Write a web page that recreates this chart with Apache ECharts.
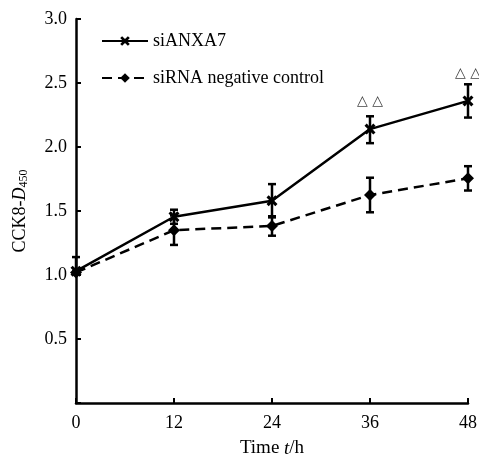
<!DOCTYPE html>
<html>
<head>
<meta charset="utf-8">
<script src="https://cdn.jsdelivr.net/npm/echarts@6/dist/echarts.min.js"></script>
<style>
  html, body { margin: 0; padding: 0; background: #fff; }
  #main { width: 479px; height: 455px; }
</style>
</head>
<body>
<div id="main"></div>
<script>
// time points (h)
const hours = [0, 12, 24, 36, 48];
// CCK8 D450 means
const anxa7 = [1.03, 1.455, 1.58, 2.14, 2.36];
const control = [1.02, 1.35, 1.383, 1.625, 1.755];
// error bars (upper / lower half)
const anxa7ErrUp = [0.11, 0.055, 0.13, 0.10, 0.13];
const anxa7ErrDown = [0, 0.055, 0.13, 0.11, 0.13];
const ctrlErrUp = [0, 0.115, 0.076, 0.135, 0.095];
const ctrlErrDown = [0, 0.115, 0.076, 0.135, 0.095];
// significance marks
const markHours = [36, 48];
const markText = '\u25B3 \u25B3';

const serif = '"Liberation Serif", "DejaVu Serif", serif';
const xSymbol = 'path://M0,2 L2,0 L5,3 L8,0 L10,2 L7,5 L10,8 L8,10 L5,7 L2,10 L0,8 L3,5 Z';

function errData(vals, up, down) {
  return hours.map((h, i) => [h, vals[i] - down[i], vals[i] + up[i]]);
}

function renderErr(params, api) {
  const lo = api.coord([api.value(0), api.value(1)]);
  const hi = api.coord([api.value(0), api.value(2)]);
  const w = 4;
  const style = { stroke: '#000', lineWidth: 2.5, fill: null };
  const children = [];
  if (Math.abs(lo[1] - hi[1]) < 0.5) return { type: 'group', children };
  children.push({ type: 'line', shape: { x1: hi[0], y1: hi[1], x2: lo[0], y2: lo[1] }, style });
  children.push({ type: 'line', shape: { x1: hi[0] - w, y1: hi[1], x2: hi[0] + w, y2: hi[1] }, style });
  children.push({ type: 'line', shape: { x1: lo[0] - w, y1: lo[1], x2: lo[0] + w, y2: lo[1] }, style });
  return { type: 'group', children };
}

const chart = echarts.init(document.getElementById('main'));

const anxa7Points = hours.map((h, i) => {
  const item = { value: [h, anxa7[i]] };
  if (markHours.includes(h)) {
    item.label = {
      show: true, position: 'top', distance: 15,
      formatter: markText, color: '#444', fontSize: 14, fontFamily: '"DejaVu Sans", sans-serif'
    };
  }
  return item;
});

chart.setOption({
  animation: false,
  grid: { left: 76, right: 11, top: 19, bottom: 52, outerBoundsMode: 'none', containLabel: false },
  legend: {
    data: ['siANXA7', 'siRNA negative control'],
    orient: 'vertical',
    left: 96, top: 27,
    itemWidth: 46, itemHeight: 12, itemGap: 19,
    textStyle: { fontFamily: serif, fontSize: 18, color: '#000' }
  },
  xAxis: {
    type: 'value', min: 0, max: 48, interval: 12,
    name: '{n|Time }{i|t}{n|/h}',
    nameLocation: 'middle', nameGap: 36,
    nameTextStyle: {
      rich: {
        n: { fontFamily: serif, fontSize: 19, color: '#000' },
        i: { fontFamily: serif, fontSize: 19, color: '#000', fontStyle: 'italic' }
      }
    },
    axisLine: { lineStyle: { color: '#000', width: 2.5 } },
    axisTick: { inside: true, length: 5, lineStyle: { color: '#000', width: 2 } },
    axisLabel: { color: '#000', fontFamily: serif, fontSize: 18, margin: 11 },
    splitLine: { show: false }
  },
  yAxis: {
    type: 'value', min: 0, max: 3, interval: 0.5,
    name: '{n|CCK8-}{i|D}{s|450}',
    nameLocation: 'middle', nameGap: 46,
    nameTextStyle: {
      rich: {
        n: { fontFamily: serif, fontSize: 18, color: '#000' },
        i: { fontFamily: serif, fontSize: 18, color: '#000', fontStyle: 'italic' },
        s: { fontFamily: serif, fontSize: 12, color: '#000', padding: [8, 0, 0, 0] }
      }
    },
    axisLine: { show: true, lineStyle: { color: '#000', width: 2.5 } },
    axisTick: { show: true, inside: true, length: 5, lineStyle: { color: '#000', width: 2 } },
    axisLabel: {
      color: '#000', fontFamily: serif, fontSize: 18, margin: 9,
      formatter: v => (v === 0 ? '' : v.toFixed(1))
    },
    splitLine: { show: false }
  },
  series: [
    {
      name: 'siANXA7', type: 'line', data: anxa7Points,
      symbol: xSymbol, symbolSize: 11,
      itemStyle: { color: '#000' },
      lineStyle: { color: '#000', width: 2.5, type: 'solid' },
      z: 3
    },
    {
      name: 'siRNA negative control', type: 'line',
      data: hours.map((h, i) => [h, control[i]]),
      symbol: 'diamond', symbolSize: 12,
      itemStyle: { color: '#000' },
      lineStyle: { color: '#000', width: 2.5, type: [10, 6] },
      z: 3
    },
    {
      type: 'custom', renderItem: renderErr,
      data: errData(anxa7, anxa7ErrUp, anxa7ErrDown),
      encode: { x: 0, y: [1, 2] }, z: 4, silent: true
    },
    {
      type: 'custom', renderItem: renderErr,
      data: errData(control, ctrlErrUp, ctrlErrDown),
      encode: { x: 0, y: [1, 2] }, z: 4, silent: true
    }
  ]
});
</script>
</body>
</html>
